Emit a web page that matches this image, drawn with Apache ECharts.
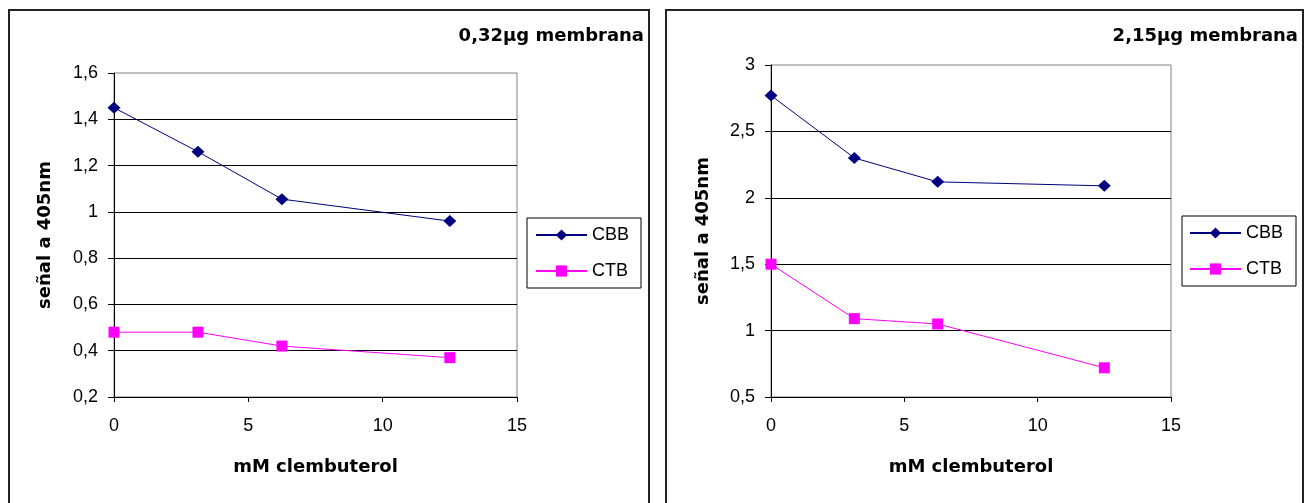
<!DOCTYPE html>
<html>
<head>
<meta charset="utf-8">
<script src="https://cdn.jsdelivr.net/npm/echarts@6/dist/echarts.min.js"></script>
<style>
  html, body { margin: 0; padding: 0; background: #fff; }
  #chart { width: 1307px; height: 503px; }
</style>
</head>
<body>
<div id="chart"></div>
<script>
// Clenbuterol concentrations (mM) shared by both panels
const concentrations = [0, 3.125, 6.25, 12.5];

// Signal at 405 nm, 0,32 µg membrane
const cbbLow = [1.45, 1.26, 1.055, 0.96];
const ctbLow = [0.48, 0.48, 0.42, 0.37];

// Signal at 405 nm, 2,15 µg membrane
const cbbHigh = [2.77, 2.30, 2.12, 2.09];
const ctbHigh = [1.50, 1.09, 1.05, 0.72];

const seriesNames = ['CBB', 'CTB'];
const panelTitles = ['0,32µg membrana', '2,15µg membrana'];
const xAxisTitle = 'mM clembuterol';
const yAxisTitle = 'señal a 405nm';

// Axis scales: [min, max, step]
const xScale = [0, 15, 5];
const yScaleLow = [0.2, 1.6, 0.2];
const yScaleHigh = [0.5, 3, 0.5];

const FONT = '"Liberation Sans", Arial, sans-serif';
const BOLD_FONT = '"DejaVu Sans", "Liberation Sans", sans-serif';
const NAVY = '#000080';
const MAGENTA = '#FF00FF';

const decimalComma = v => String(Math.round(v * 100) / 100).replace('.', ',');

const grids = [
  { left: 114, top: 73, width: 403, height: 324 },
  { left: 771, top: 65, width: 400, height: 332 }
];

const boldText = { fontFamily: BOLD_FONT, fontSize: 18, fontWeight: 'bold', color: '#000' };

function makeXAxis(gridIndex) {
  return {
    type: 'value', gridIndex,
    min: xScale[0], max: xScale[1], interval: xScale[2],
    name: xAxisTitle, nameLocation: 'middle', nameGap: 61,
    nameTextStyle: boldText,
    axisLine: { show: true, onZero: false, lineStyle: { color: '#000', width: 1 } },
    axisTick: { show: true, inside: false, length: 5, lineStyle: { color: '#000' } },
    axisLabel: { fontFamily: FONT, fontSize: 18, color: '#000', margin: 20 },
    splitLine: { show: false }
  };
}

function makeYAxis(gridIndex, scale, gap) {
  return {
    type: 'value', gridIndex,
    min: scale[0], max: scale[1], interval: scale[2],
    name: yAxisTitle, nameLocation: 'middle', nameGap: gap,
    nameTextStyle: boldText,
    axisLine: { show: true, onZero: false, lineStyle: { color: '#000', width: 1 } },
    axisTick: { show: true, inside: false, length: 6, lineStyle: { color: '#000' } },
    axisLabel: { fontFamily: FONT, fontSize: 18, color: '#000', margin: 16, formatter: decimalComma },
    splitLine: { show: true, showMinLine: false, showMaxLine: false, lineStyle: { color: '#000', width: 1 } }
  };
}

function makeSeries(name, values, idx, symbol, size, color) {
  return {
    type: 'line', name,
    xAxisIndex: idx, yAxisIndex: idx,
    data: concentrations.map((x, i) => [x, values[i]]),
    symbol, symbolSize: size, showAllSymbol: true,
    lineStyle: { color, width: 1 },
    itemStyle: { color, borderWidth: 0 },
    emphasis: { disabled: true },
    clip: false, z: 5
  };
}

function makeLegend(left, top, padding) {
  return {
    orient: 'vertical', left, top,
    data: seriesNames,
    itemWidth: 51, itemHeight: 14, itemGap: 18,
    padding,
    borderColor: '#000', borderWidth: 1, borderRadius: 0,
    backgroundColor: '#fff',
    selectedMode: false,
    textStyle: { fontFamily: FONT, fontSize: 18, color: '#000' }
  };
}

const chart = echarts.init(document.getElementById('chart'), null, { renderer: 'canvas' });

chart.setOption({
  animation: false,
  backgroundColor: '#fff',
  textStyle: { fontFamily: FONT },
  graphic: [
    { type: 'rect', shape: { x: 9, y: 10, width: 640, height: 520 },
      style: { fill: 'none', stroke: '#222', lineWidth: 2 }, silent: true, z: -10 },
    { type: 'rect', shape: { x: 666, y: 10, width: 637, height: 520 },
      style: { fill: 'none', stroke: '#222', lineWidth: 2 }, silent: true, z: -10 }
  ],
  title: [
    { text: panelTitles[0], right: 663, top: 27, padding: 0, textStyle: boldText },
    { text: panelTitles[1], right: 9, top: 27, padding: 0, textStyle: boldText }
  ],
  legend: [
    makeLegend(527, 218, [8, 12, 8, 8]),
    makeLegend(1182, 216, [8, 13, 8, 7])
  ],
  grid: grids.map(g => Object.assign({
    show: true, borderColor: '#808080', borderWidth: 1, backgroundColor: 'transparent',
    containLabel: false, outerBoundsMode: 'none'
  }, g)),
  xAxis: [makeXAxis(0), makeXAxis(1)],
  yAxis: [makeYAxis(0, yScaleLow, 60), makeYAxis(1, yScaleHigh, 59)],
  series: [
    makeSeries(seriesNames[0], cbbLow, 0, 'diamond', [13, 12], NAVY),
    makeSeries(seriesNames[1], ctbLow, 0, 'rect', 11, MAGENTA),
    makeSeries(seriesNames[0], cbbHigh, 1, 'diamond', [13, 12], NAVY),
    makeSeries(seriesNames[1], ctbHigh, 1, 'rect', 11, MAGENTA)
  ]
});
</script>
</body>
</html>
